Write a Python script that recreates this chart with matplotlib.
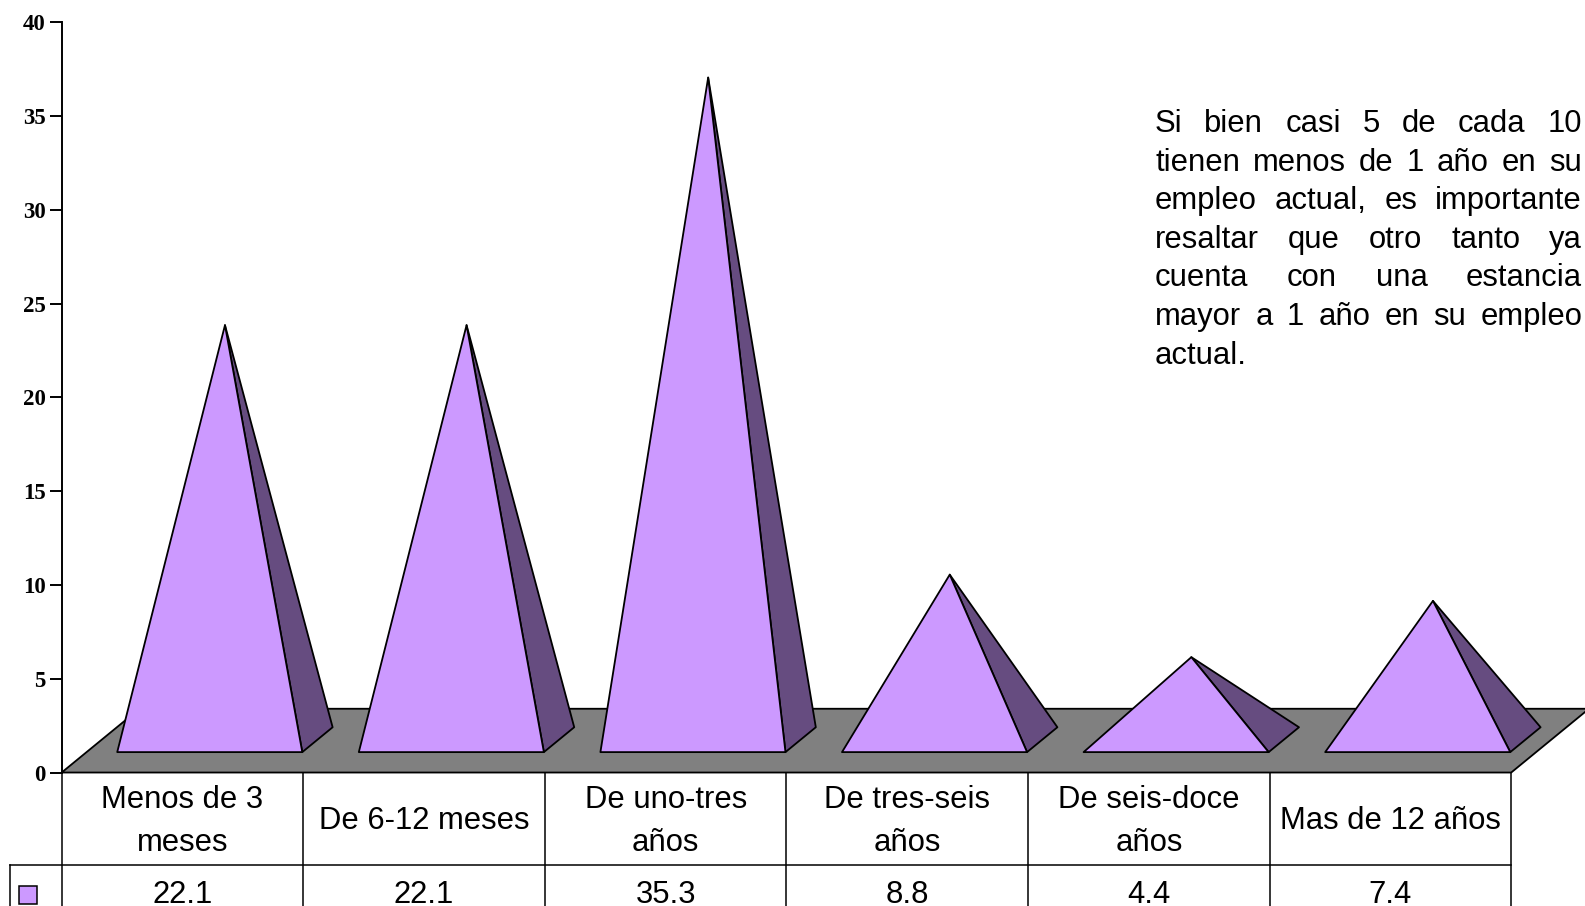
import numpy as np
import matplotlib
matplotlib.use('Agg')
import matplotlib.pyplot as plt

plt.rcParams['font.family'] = ['Liberation Sans', 'DejaVu Sans']

# chart data
categories = ['Menos de 3\nmeses', 'De 6-12 meses', 'De uno-tres\naños',
              'De tres-seis\naños', 'De seis-doce\naños', 'Mas de 12 años']
values = [22.1, 22.1, 35.3, 8.8, 4.4, 7.4]
yticks = [0, 5, 10, 15, 20, 25, 30, 35, 40]
note_lines = ['Si bien casi 5 de cada 10',
              'tienen menos de 1 año en su',
              'empleo actual, es importante',
              'resaltar que otro tanto ya',
              'cuenta con una estancia',
              'mayor a 1 año en su empleo',
              'actual.']

front_col = '#CC99FF'
side_col = '#664C80'
floor_col = '#808080'

# fake 3d: depth vector in data units, pyramid placement
dx, dy = 0.322, 3.40
d0, d1 = 0.32, 0.71
half_w = 0.383
shift = 0.113
apex_dx = 0.063
lw = 1.3
fs = 22.3

fig = plt.figure(figsize=(15.85, 9.06), dpi=100)
ax = fig.add_axes([0, 0, 1, 1])
ax.set_xlim(-0.2552, 6.3054)
ax.set_ylim(-7.116, 41.186)
n = len(values)

# floor
ax.fill([0, n, n + dx, dx], [0, 0, dy, dy], facecolor=floor_col,
        edgecolor='black', lw=lw, zorder=1)

# pyramids
for i, v in enumerate(values):
    c = i + 0.5 + shift
    yb = d0 * dy
    xl, xr = c - half_w, c + half_w
    bx, by = xr + (d1 - d0) * dx, yb + (d1 - d0) * dy
    ax_, ay_ = c + apex_dx, v + (d0 + d1) / 2 * dy
    ax.fill([xr, bx, ax_], [yb, by, ay_], facecolor=side_col,
            edgecolor='black', lw=lw, joinstyle='round', zorder=2)
    ax.fill([xl, xr, ax_], [yb, yb, ay_], facecolor=front_col,
            edgecolor='black', lw=lw, joinstyle='round', zorder=3)

# data table below the floor
ybot = -7.116
yrow = -4.906
xleg = -0.213
for i in range(n + 1):
    ax.plot([i, i], [0, ybot], color='black', lw=1.1, clip_on=False)
ax.plot([xleg, n], [yrow, yrow], color='black', lw=1.1)
ax.plot([xleg, xleg], [yrow, ybot], color='black', lw=1.1)
for i, (cat, v) in enumerate(zip(categories, values)):
    ax.text(i + 0.5, -2.6, cat, ha='center', va='center', fontsize=fs,
            linespacing=1.55)
    ax.text(i + 0.5, -6.95, f'{v:.1f}', ha='center', va='baseline', fontsize=fs)
ax.plot([-0.14], [-6.55], marker='s', ms=12.5, mfc=front_col, mec='black',
        mew=1.1, clip_on=False)

# y axis
for s in ['top', 'right', 'bottom']:
    ax.spines[s].set_visible(False)
ax.spines['left'].set_position(('data', 0))
ax.spines['left'].set_bounds(0, 40)
ax.spines['left'].set_linewidth(1.4)
ax.set_xticks([])
ax.set_yticks(yticks)
ax.set_yticklabels([str(t) for t in yticks], fontfamily='Liberation Serif',
                   fontweight='bold', fontsize=16.5)
ax.tick_params(axis='y', direction='out', length=8.5, width=1.4, pad=3)

# justified note
r = fig.canvas.get_renderer()
left, right = 1155 / 1585, 1582 / 1585
for k, line in enumerate(note_lines):
    yb = 1 - (132 + 38.6 * k) / 906
    if k == len(note_lines) - 1:
        fig.text(left, yb, line, fontsize=fs, va='baseline')
        continue
    words = line.split()
    ts = [fig.text(0, yb, w, fontsize=fs, va='baseline') for w in words]
    widths = [t.get_window_extent(r).width / 1585 for t in ts]
    gap = (right - left - sum(widths)) / (len(words) - 1)
    x = left
    for t, w in zip(ts, widths):
        t.set_x(x)
        x += w + gap

fig.savefig('out.png', dpi=100)
